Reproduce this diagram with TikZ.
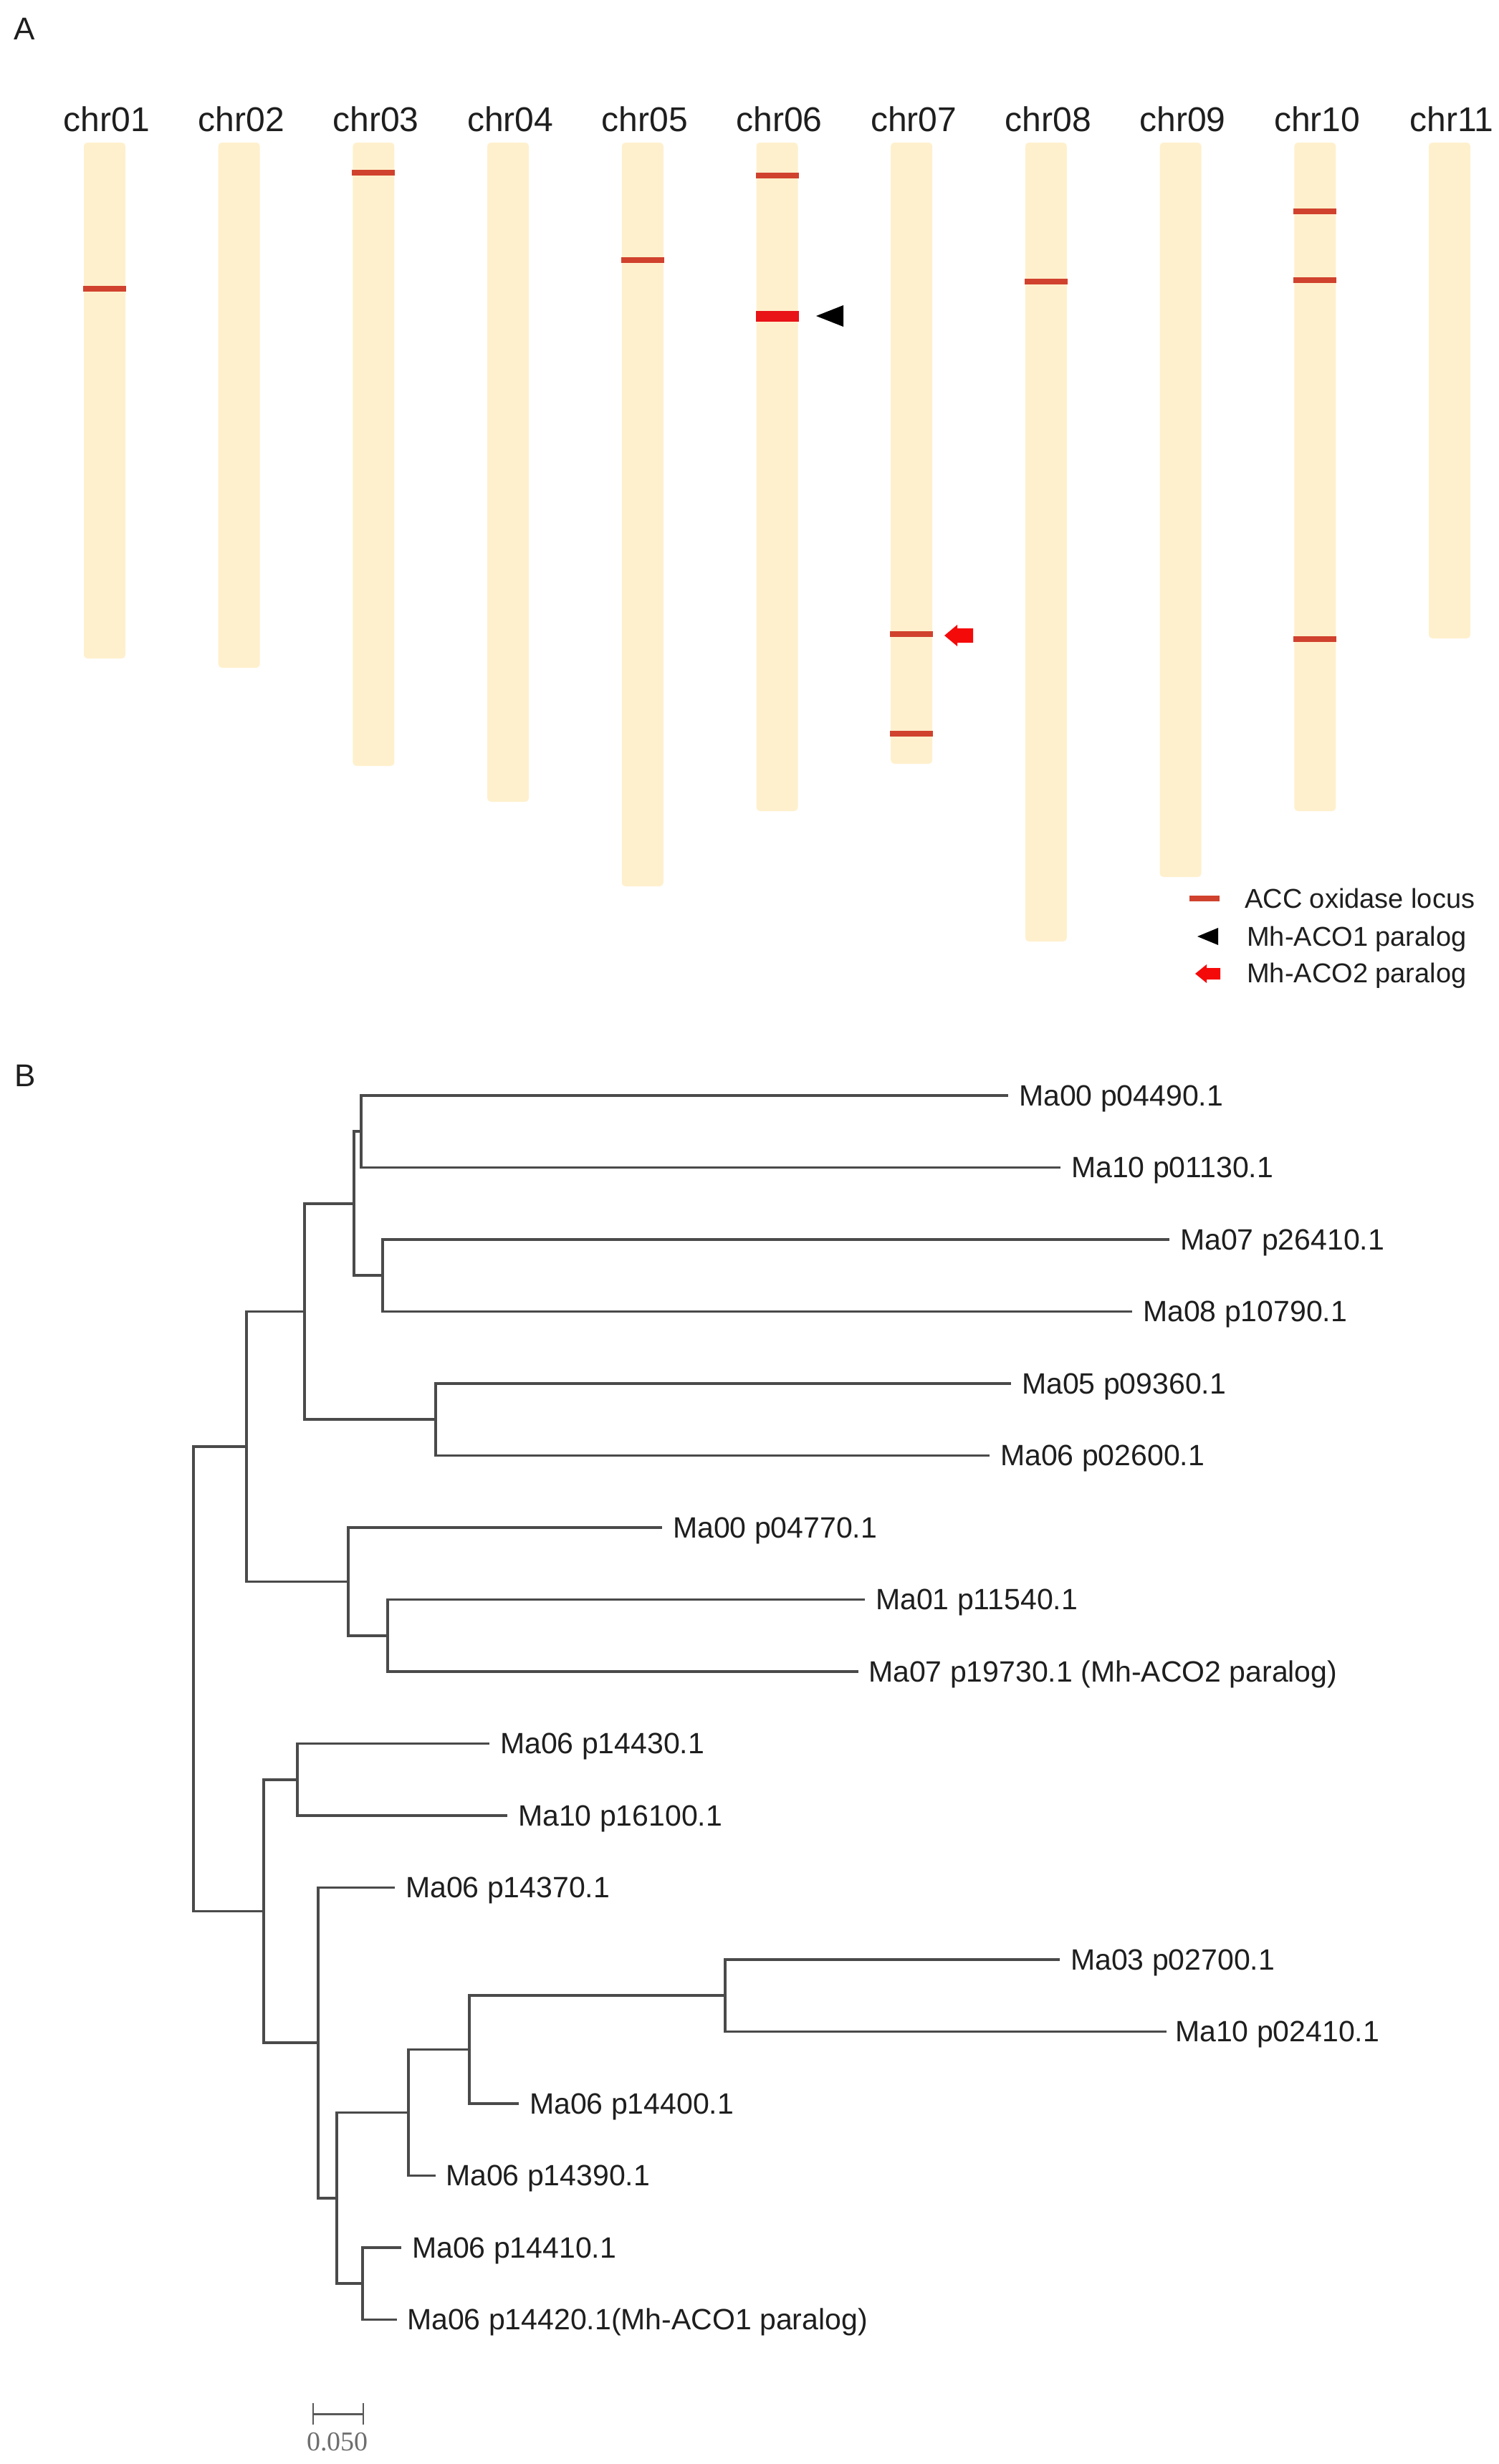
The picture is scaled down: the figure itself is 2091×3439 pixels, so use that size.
\documentclass[tikz,border=0pt]{standalone}
\usepackage{fontspec}
\setmainfont{Liberation Sans}
\newfontfamily\scalefont{Liberation Serif}
\usetikzlibrary{calc}
\definecolor{chrfill}{RGB}{255,240,205}
\definecolor{locus}{RGB}{208,66,46}
\definecolor{locusbig}{RGB}{232,20,24}
\definecolor{arrowred}{RGB}{245,10,10}
\definecolor{branch}{RGB}{74,74,74}
\definecolor{txt}{RGB}{30,30,30}
\definecolor{scalegray}{RGB}{110,110,110}
\begin{document}
\begin{tikzpicture}[x=1pt,y=-1pt,
  panel/.style={anchor=base west, font=\fontsize{44}{52}\selectfont, text=txt, inner sep=0},
  chrlabel/.style={anchor=base, font=\fontsize{48}{56}\selectfont, text=txt, inner sep=0},
  legtext/.style={anchor=base west, font=\fontsize{38}{45}\selectfont, text=txt, inner sep=0},
  leaf/.style={anchor=base west, font=\fontsize{41}{48}\selectfont, text=txt, inner sep=0},
  br/.style={draw=branch, line width=3.7pt},
  chrbar/.style={fill=chrfill, rounded corners=5pt},
]
\useasboundingbox (0,0) rectangle (2091,3439);

% ---------------- Panel A ----------------
\node[panel] (labA) at (19,56) {A};

\foreach \i/\nm/\b in {1/01/919, 2/02/932, 3/03/1069, 4/04/1119, 5/05/1237, 6/06/1132, 7/07/1066, 8/08/1314, 9/09/1224, 10/10/1132, 11/11/891}{
  \pgfmathsetmacro\cx{146+187.7*(\i-1)}
  \fill[chrbar] (\cx-29,199) rectangle (\cx+29,\b);
  \node[chrlabel] (chr\nm) at (\cx+3,183) {chr\nm};
}

% ACC oxidase loci (thin)
\foreach \i/\y in {1/403, 3/241, 5/363, 6/245, 7/885, 7/1024, 8/393, 10/295, 10/391, 10/892}{
  \pgfmathsetmacro\cx{146+187.7*(\i-1)}
  \fill[locus] (\cx-30,\y-4) rectangle (\cx+30,\y+4);
}
% thick locus chr06
\pgfmathsetmacro\cxsix{146+187.7*5}
\fill[locusbig] (\cxsix-30,434) rectangle (\cxsix+30,449);

% Mh-ACO1 paralog marker
\fill[black] (1139,441) -- (1177,426) -- (1177,456) -- cycle;
% Mh-ACO2 paralog marker
\fill[arrowred] (1318,887) -- (1336,872) -- (1336,877) -- (1358,877) -- (1358,897) -- (1336,897) -- (1336,902) -- cycle;

% legend
\fill[locus] (1660,1250) rectangle (1702,1258);
\node[legtext] (leg1) at (1737,1267) {ACC oxidase locus};
\fill[black] (1671,1307) -- (1700,1295) -- (1700,1319) -- cycle;
\node[legtext] (leg2) at (1740,1320) {Mh-ACO1 paralog};
\fill[arrowred] (1668,1359) -- (1684,1346) -- (1684,1351) -- (1703,1351) -- (1703,1367) -- (1684,1367) -- (1684,1372) -- cycle;
\node[legtext] (leg3) at (1740,1371) {Mh-ACO2 paralog};

% ---------------- Panel B ----------------
\node[panel] (labB) at (20,1516) {B};

% leaf end points
\coordinate (e1) at (1407,1529);
\coordinate (e2) at (1480,1629.5);
\coordinate (e3) at (1632,1730);
\coordinate (e4) at (1580,1830.5);
\coordinate (e5) at (1411,1931);
\coordinate (e6) at (1381,2031.5);
\coordinate (e7) at (924,2132);
\coordinate (e8) at (1207,2232.5);
\coordinate (e9) at (1198,2333);
\coordinate (e10) at (683,2433.5);
\coordinate (e11) at (708,2534);
\coordinate (e12) at (551,2634.5);
\coordinate (e13) at (1479,2735);
\coordinate (e14) at (1628,2835.5);
\coordinate (e15) at (724,2936);
\coordinate (e16) at (608,3036.5);
\coordinate (e17) at (560,3137);
\coordinate (e18) at (554,3237.5);

% internal nodes
\coordinate (n12) at (504,1579.25);
\coordinate (n34) at (534,1780.25);
\coordinate (n1234) at (494,1679.75);
\coordinate (n56) at (608,1981.25);
\coordinate (nA) at (425,1830.5);
\coordinate (n89) at (541,2282.75);
\coordinate (n789) at (486,2207.4);
\coordinate (nB) at (344,2019);
\coordinate (n1011) at (415,2483.75);
\coordinate (n1314) at (1012,2785.25);
\coordinate (n1315) at (655,2860.6);
\coordinate (n1316) at (570,2948.6);
\coordinate (n1718) at (506,3187.25);
\coordinate (n1318) at (470,3067.9);
\coordinate (n1218) at (444,2851.2);
\coordinate (nC) at (368,2667.5);
\coordinate (root) at (270,2343.25);

% branches
\draw[br] (n12) |- (e1);
\draw[br] (n12) |- (e2);
\draw[br] (n34) |- (e3);
\draw[br] (n34) |- (e4);
\draw[br] (n1234) |- (n12);
\draw[br] (n1234) |- (n34);
\draw[br] (n56) |- (e5);
\draw[br] (n56) |- (e6);
\draw[br] (nA) |- (n1234);
\draw[br] (nA) |- (n56);
\draw[br] (n89) |- (e8);
\draw[br] (n89) |- (e9);
\draw[br] (n789) |- (e7);
\draw[br] (n789) |- (n89);
\draw[br] (nB) |- (nA);
\draw[br] (nB) |- (n789);
\draw[br] (n1011) |- (e10);
\draw[br] (n1011) |- (e11);
\draw[br] (n1314) |- (e13);
\draw[br] (n1314) |- (e14);
\draw[br] (n1315) |- (n1314);
\draw[br] (n1315) |- (e15);
\draw[br] (n1316) |- (n1315);
\draw[br] (n1316) |- (e16);
\draw[br] (n1718) |- (e17);
\draw[br] (n1718) |- (e18);
\draw[br] (n1318) |- (n1316);
\draw[br] (n1318) |- (n1718);
\draw[br] (n1218) |- (e12);
\draw[br] (n1218) |- (n1318);
\draw[br] (nC) |- (n1011);
\draw[br] (nC) |- (n1218);
\draw[br] (root) |- (nB);
\draw[br] (root) |- (nC);

% leaf labels
\node[leaf] (t1) at ($(e1)+(15,14)$) {Ma00 p04490.1};
\node[leaf] (t2) at ($(e2)+(15,14)$) {Ma10 p01130.1};
\node[leaf] (t3) at ($(e3)+(15,14)$) {Ma07 p26410.1};
\node[leaf] (t4) at ($(e4)+(15,14)$) {Ma08 p10790.1};
\node[leaf] (t5) at ($(e5)+(15,14)$) {Ma05 p09360.1};
\node[leaf] (t6) at ($(e6)+(15,14)$) {Ma06 p02600.1};
\node[leaf] (t7) at ($(e7)+(15,14)$) {Ma00 p04770.1};
\node[leaf] (t8) at ($(e8)+(15,14)$) {Ma01 p11540.1};
\node[leaf] (t9) at ($(e9)+(14,14)$) {Ma07 p19730.1 (Mh-ACO2 paralog)};
\node[leaf] (t10) at ($(e10)+(15,14)$) {Ma06 p14430.1};
\node[leaf] (t11) at ($(e11)+(15,14)$) {Ma10 p16100.1};
\node[leaf] (t12) at ($(e12)+(15,14)$) {Ma06 p14370.1};
\node[leaf] (t13) at ($(e13)+(15,14)$) {Ma03 p02700.1};
\node[leaf] (t14) at ($(e14)+(12,14)$) {Ma10 p02410.1};
\node[leaf] (t15) at ($(e15)+(15,14)$) {Ma06 p14400.1};
\node[leaf] (t16) at ($(e16)+(14,14)$) {Ma06 p14390.1};
\node[leaf] (t17) at ($(e17)+(15,14)$) {Ma06 p14410.1};
\node[leaf] (t18) at ($(e18)+(14,14)$) {Ma06 p14420.1(Mh-ACO1 paralog)};

% scale bar
\coordinate (sb1) at (437,3369);
\coordinate (sb2) at (507,3369);
\draw[draw=scalegray!80!black, line width=3pt] (sb1) -- (sb2);
\draw[draw=scalegray!80!black, line width=2.5pt] ($(sb1)+(0,-15)$) -- ($(sb1)+(0,15)$);
\draw[draw=scalegray!80!black, line width=2.5pt] ($(sb2)+(0,-15)$) -- ($(sb2)+(0,15)$);
\node[anchor=base, inner sep=0, text=scalegray, font=\scalefont\fontsize{38}{44}\selectfont] (sbl) at (471,3420) {0.050};
\end{tikzpicture}
\end{document}
